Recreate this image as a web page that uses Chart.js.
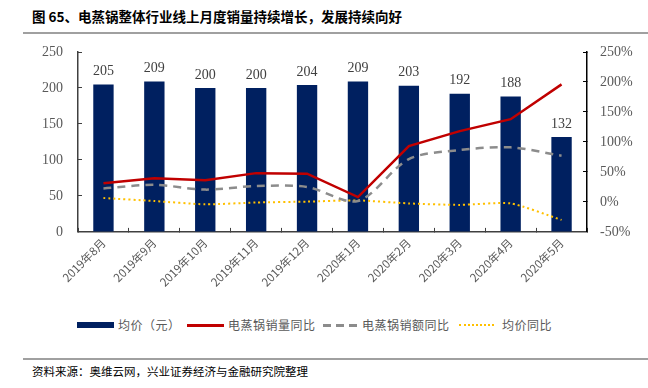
<!DOCTYPE html>
<html>
<head>
    <meta charset="utf-8">
    <title>电蒸锅整体行业线上月度销量</title>
    <style>
        html, body {
            margin: 0;
            padding: 0;
            background: #fff;
            width: 648px;
            height: 388px;
            overflow: hidden;
        }

        #title {
            position: absolute;
            left: 32px;
            top: 6px;
            font-family: "Noto Sans CJK SC", sans-serif;
            font-weight: bold;
            font-size: 13.5px;
            color: #000;
        }

        .rule {
            position: absolute;
            left: 23px;
            right: 0;
            height: 2px;
            background: #a0a0a0;
        }

        #source {
            position: absolute;
            left: 32px;
            top: 363px;
            font-family: "Noto Sans CJK SC", sans-serif;
            font-size: 11.5px;
            color: #000;
        }

        #wrap {
            position: absolute;
            left: 0;
            top: 0;
            width: 648px;
            height: 297px;
        }

        .lg {
            position: absolute;
            font-family: "Noto Sans CJK SC", sans-serif;
            font-size: 12px;
            color: #595959;
            top: 317px;
            line-height: 16px;
            letter-spacing: 0.5px;
        }

        .sw {
            position: absolute;
        }
    </style>
</head>
<body>
    <div id="title">图 65、电蒸锅整体行业线上月度销量持续增长，发展持续向好</div>
    <div class="rule" style="top: 32px;"></div>
    <div id="wrap"><canvas id="chart"></canvas></div>

    <!-- legend -->
    <div class="sw" style="left:77px; top:322px; width:37px; height:6px; background:#002060;"></div>
    <div class="lg" style="left:118px;">均价（元）</div>
    <div class="sw" style="left:187px; top:324px; width:37px; height:2.5px; background:#c00000;"></div>
    <div class="lg" style="left:228px;">电蒸锅销量同比</div>
    <div class="sw" style="left:323px; top:324px; width:8px; height:2.5px; background:#8c8c8c;"></div>
    <div class="sw" style="left:336px; top:324px; width:8px; height:2.5px; background:#8c8c8c;"></div>
    <div class="sw" style="left:349px; top:324px; width:8px; height:2.5px; background:#8c8c8c;"></div>
    <div class="lg" style="left:362px;">电蒸锅销额同比</div>
    <div class="sw" style="left:459px; top:324px; width:35px; height:0; border-top:2px dotted #ffc000;"></div>
    <div class="lg" style="left:502px;">均价同比</div>

    <div class="rule" style="top: 358px;"></div>
    <div id="source">资料来源：奥维云网，兴业证券经济与金融研究院整理</div>

    <script src="https://cdn.jsdelivr.net/npm/chart.js"></script>
    <script>
        const months = ['2019年8月', '2019年9月', '2019年10月', '2019年11月', '2019年12月',
            '2020年1月', '2020年2月', '2020年3月', '2020年4月', '2020年5月'];
        const avgPrice = [205, 209, 200, 200, 204, 209, 203, 192, 188, 132];
        const volumeYoY = [31, 39.5, 36, 48, 47, 8, 93, 118, 138, 196];
        const salesYoY = [22.5, 28.5, 20.5, 26.5, 25, 1.5, 71.5, 86.5, 91, 77];
        const priceYoY = [6.5, 1.5, -4, -1, 0.5, 2.5, -2.5, -5, -2.5, -30];

        const serif = '"Liberation Serif", "Times New Roman", serif';
        const cjk = '"Noto Sans CJK SC", sans-serif';

        // value labels above the bars
        const barLabels = {
            id: 'barLabels',
            afterDatasetsDraw(chart) {
                const ctx = chart.ctx;
                const meta = chart.getDatasetMeta(0);
                ctx.save();
                ctx.font = '14px ' + serif;
                ctx.fillStyle = '#404040';
                ctx.textAlign = 'center';
                ctx.textBaseline = 'bottom';
                meta.data.forEach((bar, i) => {
                    ctx.fillText(avgPrice[i], bar.x, bar.y - 6);
                });
                ctx.restore();
            }
        };

        new Chart(document.getElementById('chart'), {
            data: {
                labels: months,
                datasets: [{
                    type: 'bar',
                    label: '均价（元）',
                    data: avgPrice,
                    backgroundColor: '#002060',
                    borderWidth: 0,
                    barPercentage: 0.4,
                    categoryPercentage: 1,
                    yAxisID: 'y',
                    order: 2
                }, {
                    type: 'line',
                    label: '电蒸锅销量同比',
                    data: volumeYoY,
                    borderColor: '#c00000',
                    borderWidth: 2.5,
                    pointRadius: 0,
                    tension: 0,
                    yAxisID: 'y1',
                    order: 1
                }, {
                    type: 'line',
                    label: '电蒸锅销额同比',
                    data: salesYoY,
                    borderColor: '#8c8c8c',
                    borderWidth: 2.5,
                    borderDash: [8, 6],
                    pointRadius: 0,
                    tension: 0.3,
                    yAxisID: 'y1',
                    order: 1
                }, {
                    type: 'line',
                    label: '均价同比',
                    data: priceYoY,
                    borderColor: '#ffc000',
                    borderWidth: 2,
                    borderDash: [2, 3],
                    pointRadius: 0,
                    tension: 0.2,
                    yAxisID: 'y1',
                    order: 1
                }]
            },
            options: {
                responsive: true,
                maintainAspectRatio: false,
                animation: false,
                layout: {
                    padding: { top: 52, left: 0, right: 0, bottom: 0 }
                },
                plugins: {
                    tooltip: { enabled: false },
                    legend: { display: false }
                },
                scales: {
                    x: {
                        offset: true,
                        grid: {
                            offset: true,
                            drawOnChartArea: false,
                            tickLength: -4,
                            color: '#404040'
                        },
                        border: { color: '#404040', width: 1.5 },
                        ticks: {
                            minRotation: 45,
                            maxRotation: 45,
                            padding: 8,
                            color: '#595959',
                            font: { family: cjk, size: 11.5 }
                        }
                    },
                    y: {
                        position: 'left',
                        min: 0,
                        max: 250,
                        afterFit(scale) { scale.width = 78; },
                        grid: {
                            drawOnChartArea: false,
                            tickLength: -4,
                            color: '#404040'
                        },
                        border: { color: '#404040', width: 1.5 },
                        ticks: {
                            stepSize: 50,
                            padding: 19,
                            color: '#595959',
                            font: { family: serif, size: 14 }
                        }
                    },
                    y1: {
                        position: 'right',
                        min: -50,
                        max: 250,
                        afterFit(scale) { scale.width = 61; },
                        grid: {
                            drawOnChartArea: false,
                            tickLength: -4,
                            color: '#000'
                        },
                        border: { color: '#000', width: 1.5 },
                        ticks: {
                            stepSize: 50,
                            padding: 17,
                            color: '#595959',
                            font: { family: serif, size: 14 },
                            callback: (v) => v + '%'
                        }
                    }
                }
            },
            plugins: [barLabels]
        });
    </script>
</body>
</html>
